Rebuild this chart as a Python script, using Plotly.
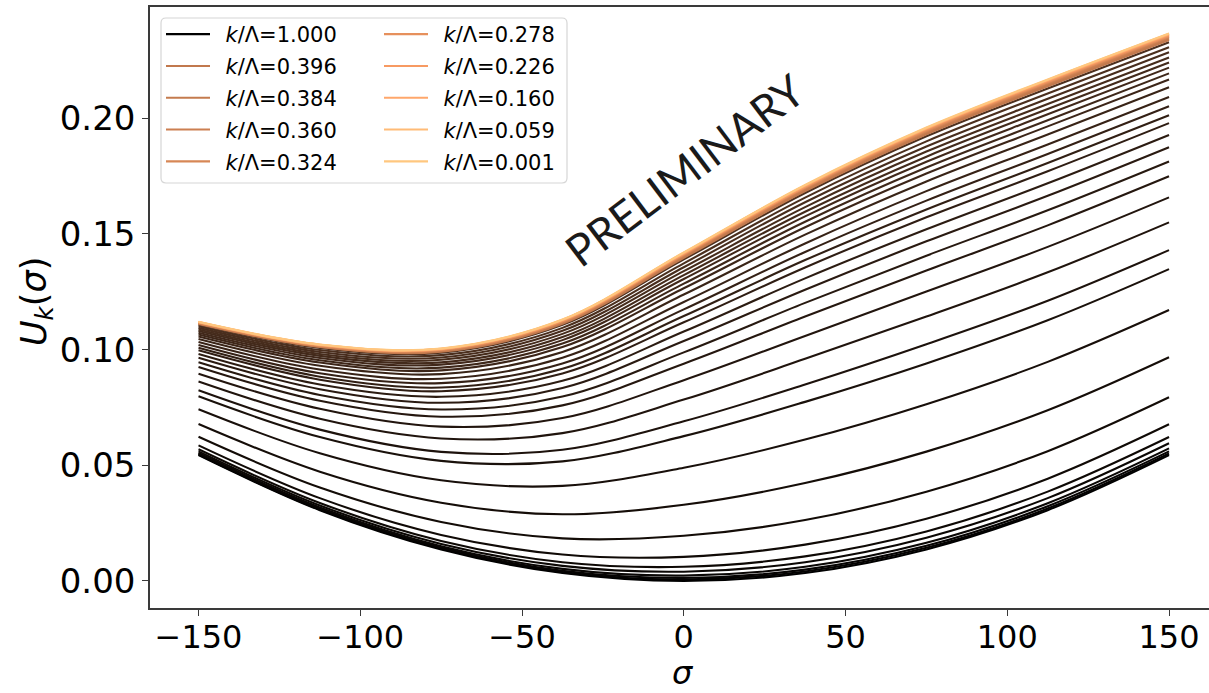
import plotly.graph_objects as go

# sigma grid on which each potential U_k(sigma) is tabulated
SIGMA = [-150, -112.5, -75, -37.5, 0, 37.5, 75, 112.5, 150]

# flow scale k/Lambda of each curve, from the UV (bottom) to the IR (top)
K_OVER_LAMBDA = [
    1.000, 0.990, 0.980, 0.972,
    0.965, 0.957, 0.949, 0.941, 0.933, 0.925, 0.917, 0.909, 0.901,
    0.893, 0.885, 0.877, 0.869, 0.861, 0.853, 0.845, 0.837, 0.829,
    0.821, 0.813, 0.805, 0.797, 0.789, 0.781, 0.773, 0.765, 0.757,
    0.396, 0.384, 0.360, 0.324, 0.278, 0.226, 0.160, 0.059, 0.001,
]

# U_k(sigma) for every k, one row per curve
U_K = [
    [0.0544, 0.0306, 0.0136, 0.0034, 0.0000, 0.0034, 0.0136, 0.0306, 0.0544],
    [0.0546, 0.0309, 0.0140, 0.0038, 0.0006, 0.0041, 0.0143, 0.0313, 0.0551],
    [0.0549, 0.0312, 0.0144, 0.0044, 0.0013, 0.0049, 0.0152, 0.0323, 0.0560],
    [0.0553, 0.0318, 0.0150, 0.0052, 0.0023, 0.0061, 0.0165, 0.0336, 0.0573],
    [0.0560, 0.0326, 0.0160, 0.0065, 0.0040, 0.0081, 0.0187, 0.0358, 0.0595],
    [0.0569, 0.0337, 0.0173, 0.0081, 0.0061, 0.0106, 0.0214, 0.0386, 0.0622],
    [0.0586, 0.0358, 0.0199, 0.0114, 0.0104, 0.0157, 0.0269, 0.0442, 0.0677],
    [0.0623, 0.0404, 0.0255, 0.0184, 0.0195, 0.0263, 0.0386, 0.0561, 0.0794],
    [0.0678, 0.0472, 0.0338, 0.0288, 0.0329, 0.0423, 0.0559, 0.0738, 0.0967],
    [0.0742, 0.0552, 0.0435, 0.0411, 0.0489, 0.0611, 0.0764, 0.0947, 0.1171],
    [0.0798, 0.0622, 0.0519, 0.0517, 0.0626, 0.0774, 0.0940, 0.1127, 0.1348],
    [0.0824, 0.0654, 0.0558, 0.0567, 0.0690, 0.0849, 0.1023, 0.1211, 0.1430],
    [0.0862, 0.0701, 0.0616, 0.0639, 0.0784, 0.0960, 0.1143, 0.1334, 0.1550],
    [0.0896, 0.0744, 0.0667, 0.0704, 0.0868, 0.1059, 0.1251, 0.1444, 0.1658],
    [0.0925, 0.0779, 0.0710, 0.0759, 0.0939, 0.1143, 0.1342, 0.1537, 0.1749],
    [0.0945, 0.0804, 0.0741, 0.0797, 0.0988, 0.1202, 0.1406, 0.1602, 0.1813],
    [0.0965, 0.0829, 0.0770, 0.0834, 0.1037, 0.1259, 0.1468, 0.1665, 0.1875],
    [0.0981, 0.0849, 0.0796, 0.0865, 0.1078, 0.1308, 0.1520, 0.1719, 0.1928],
    [0.0997, 0.0870, 0.0820, 0.0897, 0.1118, 0.1355, 0.1572, 0.1771, 0.1979],
    [0.1008, 0.0883, 0.0836, 0.0917, 0.1145, 0.1387, 0.1606, 0.1807, 0.2013],
    [0.1020, 0.0898, 0.0855, 0.0940, 0.1174, 0.1422, 0.1644, 0.1846, 0.2052],
    [0.1033, 0.0914, 0.0874, 0.0965, 0.1206, 0.1459, 0.1685, 0.1887, 0.2092],
    [0.1046, 0.0930, 0.0894, 0.0990, 0.1238, 0.1497, 0.1727, 0.1930, 0.2134],
    [0.1057, 0.0944, 0.0910, 0.1011, 0.1265, 0.1529, 0.1761, 0.1965, 0.2168],
    [0.1065, 0.0954, 0.0922, 0.1026, 0.1285, 0.1553, 0.1787, 0.1991, 0.2194],
    [0.1073, 0.0964, 0.0935, 0.1041, 0.1305, 0.1576, 0.1812, 0.2017, 0.2219],
    [0.1080, 0.0973, 0.0945, 0.1054, 0.1322, 0.1596, 0.1834, 0.2040, 0.2241],
    [0.1087, 0.0981, 0.0956, 0.1068, 0.1339, 0.1616, 0.1856, 0.2062, 0.2263],
    [0.1094, 0.0990, 0.0966, 0.1081, 0.1356, 0.1637, 0.1878, 0.2084, 0.2285],
    [0.1101, 0.0998, 0.0976, 0.1094, 0.1373, 0.1657, 0.1900, 0.2107, 0.2307],
    [0.1108, 0.1007, 0.0987, 0.1107, 0.1390, 0.1677, 0.1922, 0.2129, 0.2329],
    [0.1111, 0.1011, 0.0991, 0.1112, 0.1397, 0.1685, 0.1931, 0.2138, 0.2338],
    [0.1113, 0.1013, 0.0994, 0.1116, 0.1402, 0.1690, 0.1936, 0.2144, 0.2343],
    [0.1114, 0.1015, 0.0996, 0.1119, 0.1406, 0.1695, 0.1942, 0.2149, 0.2349],
    [0.1115, 0.1016, 0.0998, 0.1121, 0.1409, 0.1699, 0.1945, 0.2153, 0.2352],
    [0.1117, 0.1018, 0.1000, 0.1123, 0.1412, 0.1702, 0.1949, 0.2157, 0.2356],
    [0.1118, 0.1019, 0.1002, 0.1126, 0.1414, 0.1705, 0.1953, 0.2161, 0.2360],
    [0.1119, 0.1021, 0.1003, 0.1128, 0.1417, 0.1709, 0.1956, 0.2164, 0.2363],
    [0.1119, 0.1021, 0.1004, 0.1129, 0.1419, 0.1710, 0.1958, 0.2166, 0.2365],
    [0.1120, 0.1022, 0.1005, 0.1130, 0.1420, 0.1712, 0.1960, 0.2168, 0.2367],
]

# curves listed in the two legend columns
LEGEND_COL1 = [1.000, 0.396, 0.384, 0.360, 0.324]
LEGEND_COL2 = [0.278, 0.226, 0.160, 0.059, 0.001]

X_TICKS = [-150, -100, -50, 0, 50, 100, 150]
Y_TICKS = [0.00, 0.05, 0.10, 0.15, 0.20]

W, H = 1209, 693
M_L, M_R, M_T, M_B = 150, 0, 7, 85
PW, PH = W - M_L - M_R, H - M_T - M_B


def copper(x):
    """matplotlib 'copper' colormap"""
    r = min(1.0, 1.25 * x)
    g = 0.7812 * x
    b = 0.4975 * x
    return f"rgb({round(r * 255)},{round(g * 255)},{round(b * 255)})"


def px_x(p):
    return (p - M_L) / PW


def px_y(p):
    return (H - M_B - p) / PH


fig = go.Figure()
for k, u in zip(K_OVER_LAMBDA, U_K):
    if k in LEGEND_COL1:
        leg, show = "legend", True
    elif k in LEGEND_COL2:
        leg, show = "legend2", True
    else:
        leg, show = "legend", False
    fig.add_trace(go.Scatter(
        x=SIGMA, y=u, mode="lines",
        line=dict(color=copper(1.0 - k), width=2.1, shape="spline", smoothing=1.0),
        name=f"\u2002<i>k</i>/Λ={k:.3f}", legendgroup=f"k{k:.3f}",
        showlegend=show, legend=leg, hoverinfo="skip",
    ))

font = "DejaVu Sans"
legend_common = dict(
    bgcolor="rgba(0,0,0,0)", borderwidth=0, yanchor="top", xanchor="left",
    font=dict(family=font, size=21, color="#000"), itemwidth=44,
    traceorder="grouped", tracegroupgap=1.5,
)

# rounded legend frame
x0, x1 = px_x(161), px_x(567)
y0, y1 = px_y(183), px_y(18)
rx, ry = 5 / PW, 5 / PH
frame = (f"M{x0 + rx},{y1} L{x1 - rx},{y1} Q{x1},{y1} {x1},{y1 - ry} "
         f"L{x1},{y0 + ry} Q{x1},{y0} {x1 - rx},{y0} L{x0 + rx},{y0} "
         f"Q{x0},{y0} {x0},{y0 + ry} L{x0},{y1 - ry} Q{x0},{y1} {x0 + rx},{y1} Z")

fig.update_layout(
    width=W, height=H, margin=dict(l=M_L, r=M_R, t=M_T, b=M_B),
    paper_bgcolor="white", plot_bgcolor="white",
    font=dict(family=font, color="#000"),
    legend=dict(x=px_x(161), y=px_y(14), **legend_common),
    legend2=dict(x=px_x(379), y=px_y(14), **legend_common),
    shapes=[dict(type="path", path=frame, xref="paper", yref="paper",
                 line=dict(color="#d6d6d6", width=1.2), fillcolor="white",
                 layer="below")],
    xaxis=dict(
        range=[-165, -165 + PW / 3.235], tickvals=X_TICKS,
        ticktext=[f"−{abs(v)}" if v < 0 else str(v) for v in X_TICKS],
        showgrid=False, zeroline=False, showline=True, mirror=True,
        linecolor="#3a3a3a", linewidth=1.6, ticks="outside", ticklen=6,
        tickwidth=1.4, tickcolor="#3a3a3a", ticklabelstandoff=-6,
        tickfont=dict(family=font, size=32, color="#000"),
    ),
    yaxis=dict(
        range=[-0.0117, 0.2481], tickvals=Y_TICKS,
        ticktext=[f"{v:.2f}" for v in Y_TICKS],
        showgrid=False, zeroline=False, showline=True, mirror=False,
        linecolor="#3a3a3a", linewidth=1.6, ticks="outside", ticklen=6,
        tickwidth=1.4, tickcolor="#3a3a3a",
        tickfont=dict(family=font, size=34, color="#000"),
    ),
    annotations=[
        dict(text="<i>σ</i>", x=px_x(683), y=px_y(673),
             xref="paper", yref="paper", showarrow=False,
             xanchor="center", yanchor="middle",
             font=dict(family=font, size=32, color="#000")),
        dict(text="<i>U</i><sub><i>k</i></sub>(<i>σ</i>)", x=px_x(36), y=px_y(302),
             xref="paper", yref="paper", showarrow=False, textangle=-90,
             xanchor="center", yanchor="middle",
             font=dict(family=font, size=35, color="#000")),
        dict(text="PRELIMINARY", x=px_x(684), y=px_y(170), xref="paper", yref="paper",
             showarrow=False, textangle=-37, xanchor="center", yanchor="middle",
             font=dict(family="Lato", size=44, color="#1a1a1a")),
    ],
)

fig.write_html("out.html")
